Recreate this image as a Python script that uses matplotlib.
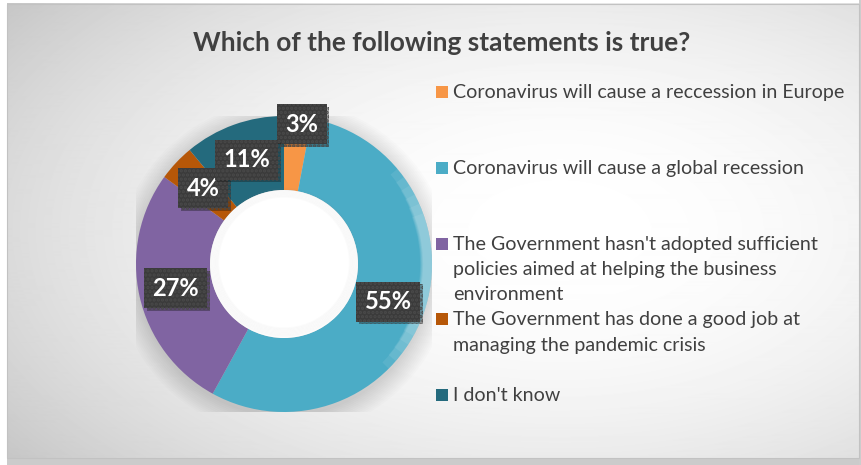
import matplotlib
matplotlib.use("Agg")
import matplotlib.pyplot as plt
import numpy as np
from matplotlib.patches import Rectangle, Circle, Wedge
import matplotlib.patheffects as pe

plt.rcParams['font.family'] = ['Lato', 'DejaVu Sans']
plt.rcParams['hatch.linewidth'] = 1.6

title = "Which of the following statements is true?"
labels = [
    "Coronavirus will cause a reccession in Europe",
    "Coronavirus will cause a global recession",
    "The Government hasn't adopted sufficient\npolicies aimed at helping the business\nenvironment",
    "The Government has done a good job at\nmanaging the pandemic crisis",
    "I don't know",
]
shares = [3, 55, 27, 4, 11]
colors = ['#F79646', '#4BACC6', '#8064A2', '#B65708', '#246A7D']

W, H = 862, 465
fig = plt.figure(figsize=(W / 100, H / 100), dpi=100)
fig.patch.set_facecolor('white')

# background layer in pixel coordinates
bg = fig.add_axes([0, 0, 1, 1])
bg.set_xlim(0, W)
bg.set_ylim(H, 0)
bg.axis('off')

# grey strips outside the chart panel
bg.add_patch(Rectangle((7, 458), W, 10, color='#cbcbcb', lw=0))
bg.add_patch(Rectangle((859, 0), 5, H, color='#cdcdcd', lw=0))

# radial gradient panel
x0, x1, y0, y1 = 7, 859, 4, 458
xx, yy = np.meshgrid(np.arange(x0, x1), np.arange(y0, y1))
d2 = ((xx - 560) / 600.0) ** 2 + ((yy - 230) / 330.0) ** 2
shade = np.clip(255 - 43 * d2, 0, 255) / 255.0
bg.imshow(shade, cmap='gray', vmin=0, vmax=1, extent=(x0, x1, y1, y0),
          interpolation='bilinear', aspect='auto')
bg.add_patch(Rectangle((x0, y0), x1 - x0, y1 - y0, fill=False,
                       ec='#c2c2c2', lw=0.8))

bg.text(442, 43, title, ha='center', va='center', fontsize=19,
        fontweight='bold', color='#404040')

# legend drawn by hand so each entry starts on an even step
for i, (lab, col) in enumerate(zip(labels, colors)):
    y = 92 + i * 75.8
    bg.add_patch(Rectangle((436, y - 6), 12, 12, color=col, lw=0))
    bg.text(453, y - 8, lab, ha='left', va='top', fontsize=14.1,
            color='#404040', linespacing=1.6)

# donut
cx, cy, r = 284, 264, 148
ax = fig.add_axes([(cx - r) / W, (H - cy - r) / H, 2 * r / W, 2 * r / H])
ax.axis('off')

# soft shadow under the ring
for k in range(12):
    ax.add_patch(Circle((0.0, -0.03), 1.0 + 0.012 * k, color='k',
                        alpha=0.012, lw=0, zorder=0))

wedges, _ = ax.pie(shares, colors=colors, startangle=90, counterclock=False,
                   radius=1.0, wedgeprops=dict(width=0.5, lw=0))
for w in wedges:
    w.set_zorder(2)

# light bevel on the outer right edge
for k in range(6):
    ax.add_patch(Wedge((0, 0), 1.0, -45 + 4 * k, 40 - 4 * k, width=0.06 + 0.004 * k,
                       color='white', alpha=0.08, lw=0, zorder=3))

# hole with a faint inner shadow
ax.add_patch(Circle((0, 0), 0.5, color='white', lw=0, zorder=3))
for k in range(8):
    ax.add_patch(Circle((0, 0.01), 0.5 - 0.008 * k, fill=False, ec='#888888',
                        lw=1.2, alpha=0.03, zorder=4))

ax.set_xlim(-1, 1)
ax.set_ylim(-1, 1)

# data labels at the middle of each segment
start = 0.0
total = float(sum(shares))
for i, v in enumerate(shares):
    mid = 90 - 360 * (start + v / 2) / total
    start += v
    rad = 0.95 if v < 4 else 0.75
    tx, ty = rad * np.cos(np.radians(mid)), rad * np.sin(np.radians(mid))
    if i == 0:
        tx += 0.03
    t = ax.text(tx, ty, f"{v}%", ha='center', va='center', fontsize=17,
                fontweight='bold', color='white', zorder=10,
                bbox=dict(boxstyle='square,pad=0.36', fc='#3b3b3b', ec='#4a4a4a',
                          lw=0, hatch='....'))
    t.get_bbox_patch().set_path_effects(
        [pe.SimplePatchShadow(offset=(2, -2), alpha=0.35), pe.Normal()])

fig.savefig('out.png', dpi=100)
